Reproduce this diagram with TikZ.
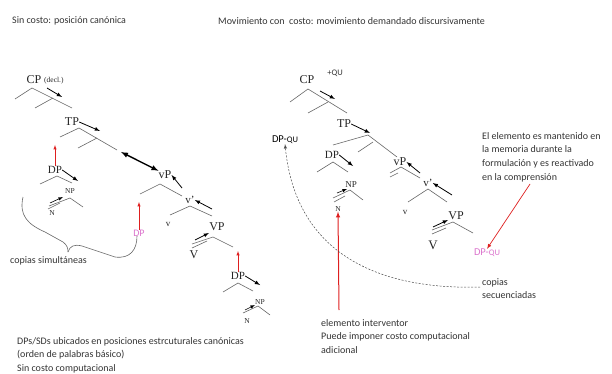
\documentclass[tikz,border=0pt]{standalone}
\usepackage{fontspec}
\setmainfont{Carlito}
\newfontfamily\arbol{Liberation Serif}
\usetikzlibrary{arrows, positioning}
\definecolor{rosa}{rgb}{0.86,0.45,0.80}
\definecolor{rojo}{rgb}{0.87,0.12,0.12}
\definecolor{gris}{rgb}{0.2,0.2,0.2}
\tikzstyle{rama} = [draw = black!60, line width = 0.6pt]
\tikzstyle{cat} = [inner sep = 0pt, text = black!85, font = \arbol\fontsize{12}{12}\selectfont]
\tikzstyle{catp} = [cat, font = \arbol\fontsize{7.5}{7.5}\selectfont]
\tikzstyle{mueve} = [-latex, line width = 0.8pt]
\tikzstyle{sube} = [-latex, draw = rojo, line width = 0.5pt]
\tikzstyle{nota} = [anchor = west, align = left, inner sep = 0pt, text = gris, font = \fontsize{10}{13.7}\selectfont]

\begin{document}
\begin{tikzpicture}[x = 1pt, y = -1pt]
\useasboundingbox (0,0) rectangle (612,374);
% titulos
\node (t1) [nota] at (12,21) {Sin costo: posición canónica};
\node (t2) [nota] at (218,21) {Movimiento con\ \ costo: movimiento demandado discursivamente};

% arbol sin costo
\node (cpI) [cat] at (34,80) {CP};
\node (declI) [catp, anchor = west] at (44,81) {(decl.)};
\draw[rama] (15,99) -- (32,88) -- (72,108);
\draw[rama] (35,108) -- (53,98);
\draw[mueve] (47,88) -- (62,97);
\node (tpI) [cat] at (72,122) {TP};
\draw[mueve] (tpI.east) -- (100,131);
\draw[rama] (60,137) -- (79,128) -- (117,150);
\draw[rama] (78,148) -- (97,138);
\node (vpI) [cat] at (165,175) {vP};
\coordinate (tpFinI) at (121,152);
\draw[latex-latex, line width = 1.4pt] (tpFinI) -- (vpI.north west);
\draw[mueve] (182,188) -- (vpI.east);
\draw[rama] (140,194) -- (160,184) -- (182,196);
\node (vbI) [cat, font = \arbol\fontsize{11}{11}\selectfont] at (190,200) {v’};
\draw[mueve] (212,209) -- (vbI.east);
\draw[rama] (170,215) -- (190,206) -- (212,216);
\node (vI) [catp, font = \arbol\fontsize{9}{9}\selectfont] at (168,224) {v};
\node (VPI) [cat] at (217,227) {VP};
\draw[mueve] (195,240) -- (209,233);
\draw[rama] (192,244) -- (213,237) -- (233,247);
\draw[rama] (192,248) -- (207,241);
\node (VI) [cat] at (194,255) {V};
\node (dpII) [cat, font = \arbol\fontsize{11}{11}\selectfont] at (238,276) {DP};
\draw[sube] (dpII.north) -- (238,251);
\draw[mueve] (dpII.east) -- (260,285);
\draw[rama] (223,292) -- (238,283) -- (253,291);
\node (npII) [catp] at (260,302) {NP};
\draw[mueve, line width = 0.6pt] (245,310) -- (255,305);
\draw[rama] (243,313) -- (258,306) -- (270,315);
\node (nII) [catp] at (247,321) {N};

% DP sujeto
\node (dpI) [cat, font = \arbol\fontsize{11}{11}\selectfont] at (55,170) {DP};
\draw[sube] (dpI.north) -- (55,145);
\draw[mueve] (dpI.east) -- (78,181);
\draw[rama] (40,184) -- (57,176) -- (72,183);
\node (npI) [catp] at (70,191) {NP};
\draw[mueve, line width = 0.6pt] (50,203) -- (63,197);
\draw[rama] (49,206) -- (70,198) -- (83,207);
\draw[rama] (48,209) -- (60,203);
\node (nI) [catp] at (52,213) {N};

\node (dpRosa) [nota, anchor = center, text = rosa] at (139,233) {DP};
\draw[sube] (dpRosa.north) -- (139,202);

% llave
\draw[rama] (23,197) .. controls (19,215) and (27,224) .. (45,232) -- (63,242) .. controls (67,245) and (68,248) .. (68,252);
\draw[rama] (68,252) .. controls (70,246) and (74,244) .. (82,246) -- (115,257) .. controls (130,259) and (137,250) .. (137,236);
\node (simul) [nota] at (10,261) {copias simultáneas};

\node (abajoI) [nota, anchor = north west] at (17,337) {DPs/SDs ubicados en posiciones estrcuturales canónicas\\(orden de palabras básico)\\Sin costo computacional};

% arbol con costo
\node (cpD) [cat] at (307,80) {CP};
\node (qu) [nota, anchor = center, font = \fontsize{8.5}{8.5}\selectfont] at (335,73) {+QU};
\draw[rama] (290,102) -- (308,89) -- (347,113);
\draw[rama] (308,113) -- (328,102);
\draw[mueve] (320,91) -- (335,99);
\node (tpD) [cat] at (344,124) {TP};
\draw[mueve] (tpD.east) -- (370,133);
\draw[rama] (333,145) -- (368,135) -- (397,157);
\draw[rama] (358,152) -- (373,142);
\node (dpD) [cat, font = \arbol\fontsize{11}{11}\selectfont] at (332,155) {DP};
\draw[mueve] (dpD.east) -- (353,166);
\draw[rama] (317,172) -- (333,162) -- (348,172);
\node (npD) [catp, font = \arbol\fontsize{9}{9}\selectfont] at (351,185) {NP};
\draw[mueve, line width = 0.6pt] (337,193) -- (347,189);
\draw[rama] (333,198) -- (350,190) -- (363,200);
\draw[rama] (334,202) -- (345,196);
\node (nD) [catp] at (338,209) {N};
\coordinate (intervI) at (339,310);
\draw[sube, line width = 1pt] (intervI) -- (nD.south);
\node (vpD) [cat] at (400,162) {vP};
\draw[mueve] (420,173) -- (vpD.east);
\draw[rama] (390,173) -- (401,167) -- (420,178);
\draw[rama] (390,177) -- (398,173);
\node (vbD) [cat, font = \arbol\fontsize{11}{11}\selectfont] at (428,183) {v’};
\draw[mueve] (452,195) -- (vbD.east);
\draw[rama] (408,202) -- (428,189) -- (447,202);
\node (vD) [catp, font = \arbol\fontsize{9}{9}\selectfont] at (405,212) {v};
\node (VPD) [cat] at (456,216) {VP};
\draw[mueve] (433,227) -- (448,220);
\draw[rama] (432,230) -- (453,222) -- (473,233);
\draw[rama] (432,234) -- (446,228);
\node (VD) [cat, font = \arbol\fontsize{13}{13}\selectfont] at (433,245) {V};

\node (dpqu) [nota, anchor = center, text = rosa, font = \fontsize{10.5}{10.5}\selectfont] at (487,253) {DP-{\fontsize{8.5}{8.5}\selectfont QU}};
\node (dpquArr) [nota, anchor = center, text = black, font = \fontsize{10.5}{10.5}\selectfont] at (285,140) {DP-{\fontsize{8.5}{8.5}\selectfont QU}};
\node (secu) [nota, anchor = north west] at (482,278) {copias\\secuenciadas};
\coordinate (finCopias) at (480,287);
\draw[-latex, dash pattern = on 2pt off 1.5pt, draw = black!70, line width = 0.5pt] (finCopias) .. controls (380,290) and (296,255) .. (dpquArr.south);

\node (memoria) [nota] at (482,157) {El elemento es mantenido en\\la memoria durante la\\formulación y es reactivado\\en la comprensión};
\draw[sube, line width = 0.7pt] (530,184) -- (dpqu.north);

\node (abajoD) [nota, anchor = north west] at (321,319) {elemento interventor\\Puede imponer costo computacional\\adicional};
\end{tikzpicture}
\end{document}
